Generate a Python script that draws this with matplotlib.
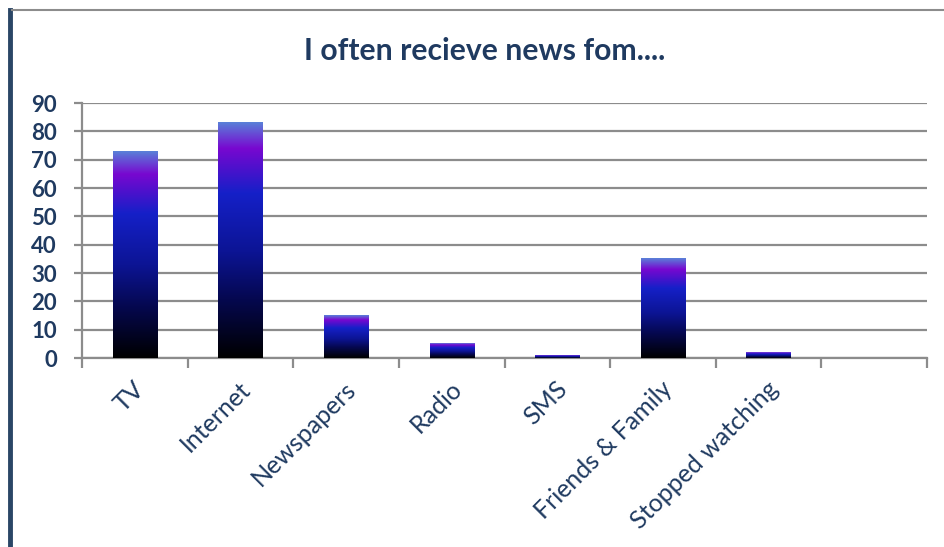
import numpy as np
import matplotlib
matplotlib.use("Agg")
import matplotlib.pyplot as plt
from matplotlib.colors import LinearSegmentedColormap
from matplotlib.lines import Line2D
import matplotlib.transforms as mtransforms

categories = ["TV", "Internet", "Newspapers", "Radio", "SMS", "Friends & Family", "Stopped watching", ""]
values = [73, 83, 15, 5, 1, 35, 2, 0]
y_ticks = [0, 10, 20, 30, 40, 50, 60, 70, 80, 90]
title = "I often recieve news fom...."

navy = "#1f3a60"
font = "Lato"
fig = plt.figure(figsize=(9.45, 5.47), dpi=100)
ax = fig.add_axes([0.0868, 0.3455, 0.8942, 0.4662])

cmap = LinearSegmentedColormap.from_list("bar", [
    (0.0, "#000000"), (0.25, "#050850"), (0.45, "#0c1494"), (0.70, "#1520c8"),
    (0.80, "#4a12cc"), (0.89, "#7808d0"), (1.0, "#5a80d8")])

x = np.arange(len(categories))
bars = ax.bar(x, values, width=0.42, color="none", zorder=3)
grad = np.linspace(0, 1, 256).reshape(-1, 1)
for r in bars:
    h = r.get_height()
    if h <= 0:
        continue
    x0 = r.get_x()
    ax.imshow(grad, cmap=cmap, origin="lower", aspect="auto",
              extent=[x0, x0 + r.get_width(), 0, h], zorder=3, interpolation="bilinear")

ax.set_xlim(-0.5, len(categories) - 0.5)
ax.set_ylim(0, 90)
ax.set_yticks(y_ticks)
ax.yaxis.grid(True, color="#8c8c8c", linewidth=1.6, zorder=0)
ax.set_axisbelow(True)
for s in ["top", "right"]:
    ax.spines[s].set_visible(False)
for s in ["left", "bottom"]:
    ax.spines[s].set_color("#8c8c8c")
    ax.spines[s].set_linewidth(1.6)
ax.tick_params(axis="y", length=6, width=1.6, color="#8c8c8c", labelsize=16, labelcolor=navy, pad=12)
for lab in ax.get_yticklabels():
    lab.set_fontweight("bold")
    lab.set_fontfamily(font)

ax.set_xticks(np.arange(len(categories) + 1) - 0.5, minor=False)
ax.set_xticklabels([])
ax.tick_params(axis="x", length=7, width=1.6, color="#8c8c8c")
offs = mtransforms.offset_copy(ax.transData, fig=fig, x=-2, y=-19, units="dots")
for i, c in enumerate(categories):
    ax.text(i, 0, c, rotation=45, ha="right", va="top", rotation_mode="anchor",
            fontsize=18, color=navy, family=font, transform=offs)

fig.text(0.513, 0.907, title, ha="center", va="center", fontsize=21.7, fontweight="bold",
         color=navy, family=font)

fig.add_artist(Line2D([0.011, 0.011], [0, 0.982], transform=fig.transFigure, color="#2a4666", linewidth=3.5))
fig.add_artist(Line2D([0.013, 1.0], [0.982, 0.982], transform=fig.transFigure, color="#8c8c8c", linewidth=1.5))

fig.savefig("out.png", dpi=100)
